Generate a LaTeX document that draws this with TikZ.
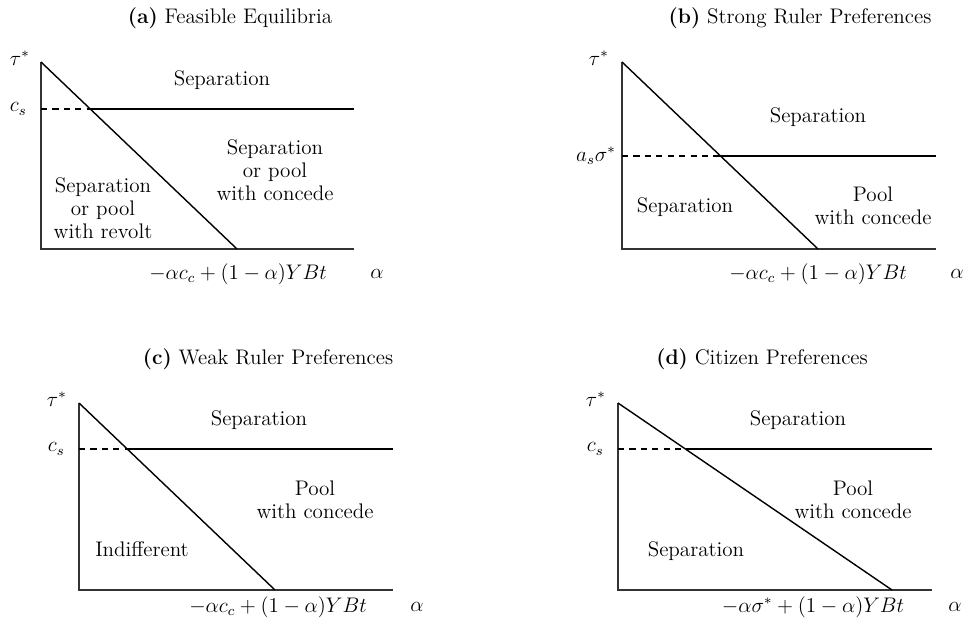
\documentclass[tikz,border=0pt]{standalone}
\tikzset{
  axisline/.style={line width=0.7pt, draw=black!80},
  bound/.style={line width=0.8pt, draw=black},
  cutline/.style={line width=0.7pt, draw=black, dash pattern=on 3.5pt off 3pt},
  region/.style={align=center, inner sep=0pt, font=\fontsize{12}{13.2}\selectfont},
  ticklabel/.style={anchor=east, inner sep=0pt, font=\fontsize{12}{13.2}\selectfont},
  paneltitle/.style={inner sep=0pt, font=\fontsize{12}{13.2}\selectfont}
}

\begin{document}
\begin{tikzpicture}[x=0.02cm, y=-0.02cm]
\useasboundingbox (0,0) rectangle (969,629);

% panel (a)
\node[paneltitle] (titleA) at (230,18) {\textbf{(a)} Feasible Equilibria};
\coordinate (topA)   at (41,62);
\coordinate (oA)     at (41,249);
\coordinate (rightA) at (354,249);
\coordinate (endA)   at (237,249);
\coordinate (levA)   at (41,109);
\coordinate (cutA)   at (90,109);
\coordinate (farA)   at (354,109);
\draw[axisline] (topA) -- (oA) -- (rightA);
\draw[bound] (topA) -- (endA);
\draw[cutline] (levA) -- (cutA);
\draw[bound] (cutA) -- (farA);
\node[ticklabel] (tauA) at (30,58) {$\tau^*$};
\node[ticklabel] (csA)  at (27,109) {$c_s$};
\node[region] (sepA)  at (222,80)  {Separation};
\node[region] (concA) at (275,170) {Separation\\or pool\\with concede};
\node[region] (revA)  at (103,208) {Separation\\or pool\\with revolt};
\node[region] (xlabA) at (238,274) {$-\alpha c_c+(1-\alpha)YBt$};
\node[region] (alphaA) at (377,274) {$\alpha$};

% panel (b)
\node[paneltitle] (titleB) at (800,18) {\textbf{(b)} Strong Ruler Preferences};
\coordinate (topB)   at (622,62);
\coordinate (oB)     at (622,249);
\coordinate (rightB) at (936,249);
\coordinate (endB)   at (818,249);
\coordinate (levB)   at (622,156);
\coordinate (cutB)   at (719,156);
\coordinate (farB)   at (936,156);
\draw[axisline] (topB) -- (oB) -- (rightB);
\draw[bound] (topB) -- (endB);
\draw[cutline] (levB) -- (cutB);
\draw[bound] (cutB) -- (farB);
\node[ticklabel] (tauB) at (609,58) {$\tau^*$};
\node[ticklabel] (asB)  at (616,156) {$a_s\sigma^*$};
\node[region] (sepB)  at (818,117) {Separation};
\node[region] (lowB)  at (685,207) {Separation};
\node[region] (poolB) at (873,206) {Pool\\with concede};
\node[region] (xlabB) at (818,274) {$-\alpha c_c+(1-\alpha)YBt$};
\node[region] (alphaB) at (957,274) {$\alpha$};

% panel (c)
\node[paneltitle] (titleC) at (268,359) {\textbf{(c)} Weak Ruler Preferences};
\coordinate (topC)   at (79,403);
\coordinate (oC)     at (79,590);
\coordinate (rightC) at (393,590);
\coordinate (endC)   at (275,590);
\coordinate (levC)   at (79,449);
\coordinate (cutC)   at (128,449);
\coordinate (farC)   at (393,449);
\draw[axisline] (topC) -- (oC) -- (rightC);
\draw[bound] (topC) -- (endC);
\draw[cutline] (levC) -- (cutC);
\draw[bound] (cutC) -- (farC);
\node[ticklabel] (tauC) at (67,399) {$\tau^*$};
\node[ticklabel] (csC)  at (65,449) {$c_s$};
\node[region] (sepC)  at (259,420) {Separation};
\node[region] (poolC) at (315,500) {Pool\\with concede};
\node[region] (indC)  at (142,549) {Indifferent};
\node[region] (xlabC) at (278,607) {$-\alpha c_c+(1-\alpha)YBt$};
\node[region] (alphaC) at (417,607) {$\alpha$};

% panel (d)
\node[paneltitle] (titleD) at (762,359) {\textbf{(d)} Citizen Preferences};
\coordinate (topD)   at (618,403);
\coordinate (oD)     at (618,590);
\coordinate (rightD) at (932,590);
\coordinate (endD)   at (892,590);
\coordinate (levD)   at (618,449);
\coordinate (cutD)   at (686,449);
\coordinate (farD)   at (932,449);
\draw[axisline] (topD) -- (oD) -- (rightD);
\draw[bound] (topD) -- (endD);
\draw[cutline] (levD) -- (cutD);
\draw[bound] (cutD) -- (farD);
\node[ticklabel] (tauD) at (606,399) {$\tau^*$};
\node[ticklabel] (csD)  at (604,449) {$c_s$};
\node[region] (sepD)  at (798,420) {Separation};
\node[region] (poolD) at (853,500) {Pool\\with concede};
\node[region] (lowD)  at (696,551) {Separation};
\node[region] (xlabD) at (813,607) {$-\alpha\sigma^*+(1-\alpha)YBt$};
\node[region] (alphaD) at (955,607) {$\alpha$};

\end{tikzpicture}
\end{document}
